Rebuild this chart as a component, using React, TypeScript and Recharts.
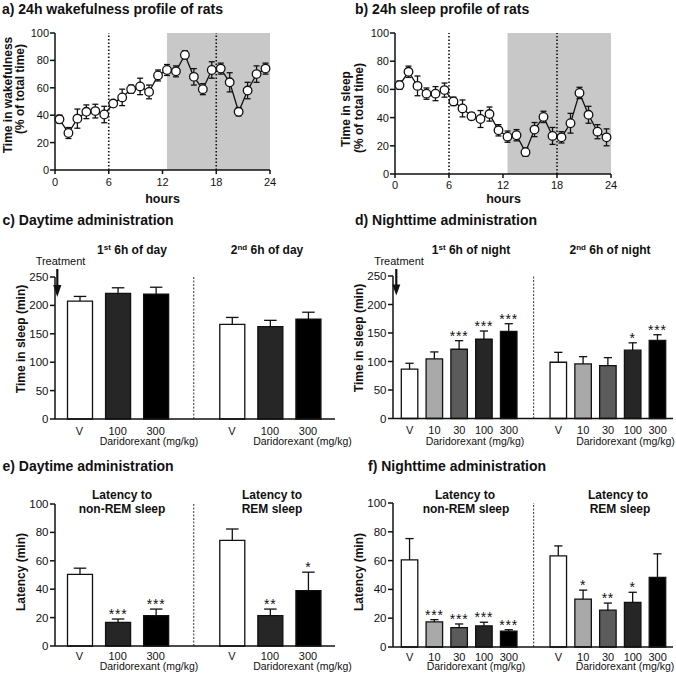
import React from 'react';
import {
  ComposedChart,
  Line,
  ErrorBar,
  XAxis,
  YAxis,
  ReferenceArea,
  ReferenceLine,
  BarChart,
  Bar,
  Cell,
  LabelList,
} from 'recharts';

const FONT = "'Liberation Sans', Arial, sans-serif";
const INK = '#111';

// 24h profiles (hourly bins)
const hours = [0.5, 1.5, 2.5, 3.5, 4.5, 5.5, 6.5, 7.5, 8.5, 9.5, 10.5, 11.5, 12.5, 13.5, 14.5, 15.5, 16.5, 17.5, 18.5, 19.5, 20.5, 21.5, 22.5, 23.5];
const wakeMean = [37, 27, 37.5, 42.5, 43, 40.5, 48.5, 53, 59, 61, 57, 69, 73, 72, 84, 68, 59, 73, 74, 64, 42.5, 58, 70, 74];
const wakeSem = [3, 4, 7, 5, 5, 6, 2, 6, 3, 6, 5, 4, 4, 4, 3, 6, 4, 6, 4, 7, 3, 6, 6, 4];
const sleepMean = [63, 72.5, 62.5, 57, 57, 59.5, 51.5, 46.5, 41, 39, 42.5, 31, 26.5, 27.5, 15.5, 31.5, 40.5, 27, 26, 36, 57.5, 42, 30, 26];
const sleepSem = [3, 4, 7, 4, 5, 5, 3, 6, 2.5, 6, 5, 4, 4, 4, 3, 5, 4, 6, 4, 7, 4, 6, 5, 6];
const hourTicks = [0, 6, 12, 18, 24];
const pctTicks = [0, 20, 40, 60, 80, 100];

// daytime dosing (two 6h blocks, gap slot in between)
const dayIds = ['V_1', '100_1', '300_1', 'gap', 'V_2', '100_2', '300_2'];
const dayLabels = ['V', '100', '300', '', 'V', '100', '300'];
const cMean = [207.5, 221, 220, null, 166.5, 162.5, 176];
const cSem = [8.3, 10, 12, null, 12.3, 11.2, 12];
const cStars = ['', '', '', '', '', '', ''];
const eMean = [50.4, 16.7, 21.4, null, 74.4, 21.4, 39];
const eSem = [4.4, 2.3, 4.6, null, 8, 4.6, 13];
const eStars = ['', '***', '***', '', '', '**', '*'];

// nighttime dosing
const nightIds = ['V_1', '10_1', '30_1', '100_1', '300_1', 'gap', 'V_2', '10_2', '30_2', '100_2', '300_2'];
const nightLabels = ['V', '10', '30', '100', '300', '', 'V', '10', '30', '100', '300'];
const dMean = [86.7, 104.5, 121.5, 139, 153, null, 98.7, 95.8, 92.8, 119.8, 137];
const dSem = [10.2, 12.3, 15, 14.5, 13.3, null, 17.4, 12.7, 14, 13, 10];
const dStars = ['', '', '***', '***', '***', '', '', '', '', '*', '***'];
const fMean = [60.5, 17.4, 13.5, 14.7, 11, null, 63.3, 33.3, 25.6, 31, 48.4];
const fSem = [14.8, 1.6, 2.5, 2.5, 1, null, 6.9, 6.2, 4.9, 7, 16.3];
const fStars = ['', '***', '***', '***', '***', '', '', '*', '**', '*', ''];

const sleepTicks = [0, 50, 100, 150, 200, 250];
const latTicks = [0, 20, 40, 60, 80, 100];

const doseColor: Record<string, string> = {
  V: '#ffffff',
  '10': '#a9a9a9',
  '30': '#5b5b5b',
  '100': '#262626',
  '300': '#000000',
};

const axisLine = { stroke: INK, strokeWidth: 1.5 };
const tickLine = { stroke: INK, strokeWidth: 1.5 };

function ProfileChart(props: any) {
  const { mean, sem, left, top, width, height, margin, yWidth, xHeight, xGap } = props;
  const rows = hours.map((h, i) => ({ h, m: mean[i], e: sem[i] }));
  return (
    <div style={{ position: 'absolute', left, top }}>
      <ComposedChart width={width} height={height} data={rows} margin={margin}>
        <ReferenceArea x1={12.5} x2={24} y1={0} y2={100} fill="#c8c8c8" fillOpacity={1} stroke="none" />
        <ReferenceLine x={6} stroke={INK} strokeWidth={1.6} strokeDasharray="1.5 2" />
        <ReferenceLine x={18} stroke={INK} strokeWidth={1.6} strokeDasharray="1.5 2" />
        <XAxis
          type="number"
          dataKey="h"
          domain={[0, 24]}
          ticks={hourTicks}
          height={xHeight}
          axisLine={axisLine}
          tickLine={tickLine}
          tickSize={4}
          tickMargin={xGap}
          tick={{ fill: INK, fontSize: 11, fontFamily: FONT }}
        />
        <YAxis
          domain={[0, 100]}
          ticks={pctTicks}
          width={yWidth}
          axisLine={axisLine}
          tickLine={tickLine}
          tickSize={5}
          tickMargin={1}
          tick={{ fill: INK, fontSize: 11, fontFamily: FONT }}
        />
        <Line
          type="linear"
          dataKey="m"
          stroke={INK}
          strokeWidth={1.3}
          dot={{ r: 4.3, fill: '#fff', stroke: INK, strokeWidth: 1.3 }}
          isAnimationActive={false}
        >
          <ErrorBar dataKey="e" width={3} stroke={INK} strokeWidth={1.3} direction="y" />
        </Line>
      </ComposedChart>
    </div>
  );
}

const ErrShape = (p: any) => {
  const { x, y, width, height } = p;
  if (height == null || !(height > 0) || isNaN(y)) return null;
  const cx = x + width / 2;
  const cap = width * 0.25;
  return (
    <g stroke={INK} strokeWidth={1.3}>
      <line x1={cx} x2={cx} y1={y} y2={y + height} />
      <line x1={cx - cap} x2={cx + cap} y1={y} y2={y} />
    </g>
  );
};

function DoseChart(props: any) {
  const { ids, labels, mean, sem, stars, left, top, width, height, margin, yMax, yTicks, barSize, padL, padR, xHeight, xGap } = props;
  const rows = ids.map((id: string, i: number) => ({
    id,
    label: labels[i],
    mean: mean[i],
    sem: sem[i],
    stars: stars[i],
  }));
  return (
    <div style={{ position: 'absolute', left, top }}>
      <BarChart width={width} height={height} data={rows} margin={margin}>
        <XAxis
          dataKey="id"
          type="category"
          interval={0}
          height={xHeight}
          padding={{ left: padL, right: padR }}
          axisLine={axisLine}
          tickLine={false}
          tickSize={xGap}
          tickMargin={0}
          tickFormatter={(v: string) => (rows.find((r: any) => r.id === v) || { label: '' }).label}
          tick={{ fill: INK, fontSize: 11, fontFamily: FONT }}
        />
        <YAxis
          domain={[0, yMax]}
          ticks={yTicks}
          width={55}
          axisLine={axisLine}
          tickLine={tickLine}
          tickSize={5}
          tickMargin={1.5}
          tick={{ fill: INK, fontSize: 11.5, fontFamily: FONT }}
        />
        <ReferenceLine x="gap" stroke="#333" strokeWidth={1} strokeDasharray="2 1.5" />
        <Bar dataKey="mean" stackId="s" barSize={barSize} stroke={INK} strokeWidth={1.3} isAnimationActive={false}>
          {rows.map((r: any) => (
            <Cell key={r.id} fill={doseColor[r.label] || 'none'} />
          ))}
        </Bar>
        <Bar dataKey="sem" stackId="s" barSize={barSize} fill="none" shape={ErrShape} isAnimationActive={false}>
          <LabelList
            dataKey="stars"
            position="top"
            offset={0}
            style={{ fill: INK, fontSize: 14, fontFamily: FONT, letterSpacing: 0.8 }}
          />
        </Bar>
      </BarChart>
    </div>
  );
}

const Sup = ({ t }: { t: string }) => (
  <tspan fontSize={8} dy={-4}>
    {t}
  </tspan>
);

function Overlay() {
  const title = { fontSize: 14, fontWeight: 'bold' as const, fill: INK, fontFamily: FONT };
  const lab = { fontSize: 12, fontWeight: 'bold' as const, fill: INK, fontFamily: FONT, textAnchor: 'middle' as const };
  const small = { fontSize: 10.5, fill: INK, fontFamily: FONT, textAnchor: 'middle' as const };
  const treat = { fontSize: 11, fill: INK, fontFamily: FONT, textAnchor: 'middle' as const };
  return (
    <svg width={676} height={674} style={{ position: 'absolute', left: 0, top: 0, pointerEvents: 'none' }}>
      <text x={2} y={14} {...title}>a) 24h wakefulness profile of rats</text>
      <text x={355} y={14} {...title}>b) 24h sleep profile of rats</text>
      <text x={2.5} y={225} {...title}>c) Daytime administration</text>
      <text x={355} y={225} {...title}>d) Nighttime administration</text>
      <text x={2.5} y={471} {...title}>e) Daytime administration</text>
      <text x={368} y={471} {...title}>f) Nighttime administration</text>

      <text transform="translate(12,95) rotate(-90)" {...lab}>Time in wakefulness</text>
      <text transform="translate(23.8,89) rotate(-90)" {...lab}>(% of total time)</text>
      <text transform="translate(350,109) rotate(-90)" {...lab}>Time in sleep</text>
      <text transform="translate(363,108) rotate(-90)" {...lab}>(% of total time)</text>
      <text transform="translate(24.6,339) rotate(-90)" {...lab}>Time in sleep (min)</text>
      <text transform="translate(362.6,338) rotate(-90)" {...lab}>Time in sleep (min)</text>
      <text transform="translate(24.6,572) rotate(-90)" {...lab}>Latency (min)</text>
      <text transform="translate(363.3,572) rotate(-90)" {...lab}>Latency (min)</text>

      <text x={162.5} y={203} {...lab} fontSize={12.5}>hours</text>
      <text x={503.5} y={203} {...lab} fontSize={12.5}>hours</text>

      <text x={132} y={253.5} {...lab}>1<Sup t="st" /><tspan dy={4}> 6h of day</tspan></text>
      <text x={267} y={253.5} {...lab}>2<Sup t="nd" /><tspan dy={4}> 6h of day</tspan></text>
      <text x={471} y={253.5} {...lab}>1<Sup t="st" /><tspan dy={4}> 6h of night</tspan></text>
      <text x={610} y={253.5} {...lab}>2<Sup t="nd" /><tspan dy={4}> 6h of night</tspan></text>

      <text x={122} y={499} {...lab}>Latency to</text>
      <text x={122} y={512.5} {...lab}>non-REM sleep</text>
      <text x={272} y={499} {...lab}>Latency to</text>
      <text x={272} y={512.5} {...lab}>REM sleep</text>
      <text x={465} y={499} {...lab}>Latency to</text>
      <text x={466} y={512.5} {...lab}>non-REM sleep</text>
      <text x={618} y={499} {...lab}>Latency to</text>
      <text x={620} y={512.5} {...lab}>REM sleep</text>

      <text x={60.5} y={264.5} {...treat}>Treatment</text>
      <line x1={57.3} x2={57.3} y1={269} y2={288} stroke={INK} strokeWidth={2.2} />
      <polygon points="53.2,285 61.4,285 57.3,297" fill={INK} />
      <text x={399} y={264.5} {...treat}>Treatment</text>
      <line x1={396.3} x2={396.3} y1={269} y2={287} stroke={INK} strokeWidth={2.2} />
      <polygon points="392.3,284.5 400.3,284.5 396.3,295.5" fill={INK} />

      <text x={149} y={445} {...small}>Daridorexant (mg/kg)</text>
      <text x={302.5} y={445} {...small}>Daridorexant (mg/kg)</text>
      <text x={475} y={445} {...small}>Daridorexant (mg/kg)</text>
      <text x={625.5} y={445} {...small}>Daridorexant (mg/kg)</text>
      <text x={149} y={670} {...small}>Daridorexant (mg/kg)</text>
      <text x={302.5} y={670} {...small}>Daridorexant (mg/kg)</text>
      <text x={476} y={670} {...small}>Daridorexant (mg/kg)</text>
      <text x={625} y={670} {...small}>Daridorexant (mg/kg)</text>
    </svg>
  );
}

export default function App() {
  return (
    <div style={{ position: 'absolute', left: 0, top: 0, width: 676, height: 674, background: '#fff', overflow: 'hidden' }}>
      <ProfileChart
        mean={wakeMean}
        sem={wakeSem}
        left={0}
        top={20}
        width={290}
        height={190}
        margin={{ top: 13, right: 20, bottom: 0, left: 0 }}
        yWidth={55}
        xHeight={40}
        xGap={4}
      />
      <ProfileChart
        mean={sleepMean}
        sem={sleepSem}
        left={338}
        top={20}
        width={290}
        height={190}
        margin={{ top: 13, right: 17, bottom: 0, left: 0 }}
        yWidth={57}
        xHeight={36}
        xGap={3}
      />
      <DoseChart
        ids={dayIds}
        labels={dayLabels}
        mean={cMean}
        sem={cSem}
        stars={cStars}
        left={0}
        top={240}
        width={340}
        height={210}
        margin={{ top: 37, right: 5, bottom: 0, left: 0 }}
        yMax={250}
        yTicks={sleepTicks}
        barSize={25}
        padL={5.5}
        padR={8}
        xHeight={31}
        xGap={8}
      />
      <DoseChart
        ids={nightIds}
        labels={nightLabels}
        mean={dMean}
        sem={dSem}
        stars={dStars}
        left={338}
        top={240}
        width={338}
        height={210}
        margin={{ top: 36, right: 3, bottom: 0, left: 0 }}
        yMax={250}
        yTicks={sleepTicks}
        barSize={16.5}
        padL={4.3}
        padR={3}
        xHeight={31.5}
        xGap={8}
      />
      <DoseChart
        ids={dayIds}
        labels={dayLabels}
        mean={eMean}
        sem={eSem}
        stars={eStars}
        left={0}
        top={470}
        width={340}
        height={204}
        margin={{ top: 34, right: 5, bottom: 0, left: 0 }}
        yMax={100}
        yTicks={latTicks}
        barSize={25}
        padL={5.5}
        padR={8}
        xHeight={28}
        xGap={6}
      />
      <DoseChart
        ids={nightIds}
        labels={nightLabels}
        mean={fMean}
        sem={fSem}
        stars={fStars}
        left={338}
        top={470}
        width={338}
        height={204}
        margin={{ top: 33, right: 3, bottom: 0, left: 0 }}
        yMax={100}
        yTicks={latTicks}
        barSize={16.5}
        padL={4.3}
        padR={3}
        xHeight={27}
        xGap={6}
      />
      <Overlay />
    </div>
  );
}
